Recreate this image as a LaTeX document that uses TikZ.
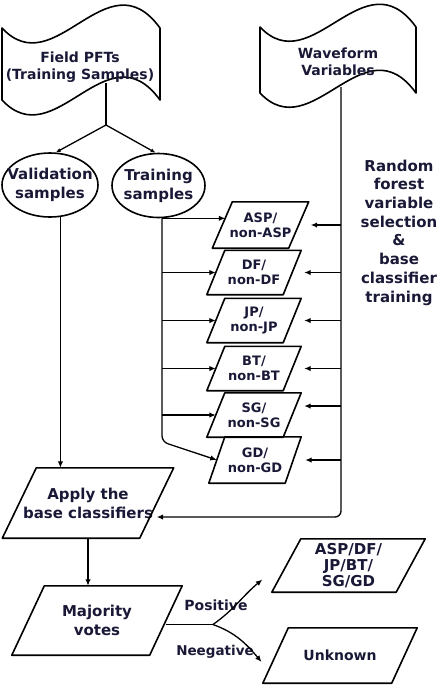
\documentclass[tikz,border=0pt]{standalone}
\usepackage{fontspec}
\setmainfont{DejaVu Sans}
\usetikzlibrary{arrows.meta,calc,shapes.geometric}
\definecolor{txt}{RGB}{25,25,55}
\newcommand\myfs[2]{\fontsize{#1}{#2}\selectfont}
\newcommand\pgram[2]{\draw[shp] ([xshift=-#2]#1.south west) -- ([xshift=-#2]#1.south east) -- ([xshift=#2]#1.north east) -- ([xshift=#2]#1.north west) -- cycle;}
\tikzset{
  shp/.style={draw=black, line width=1.6pt, line join=round},
  conn/.style={draw=black, line width=1.3pt},
  arr/.style={conn, -{Latex[length=6.5pt,width=5.5pt]}},
  lbl/.style={text=txt, align=center, inner sep=0pt, font=\bfseries\myfs{14}{17}},
  cls/.style={lbl, rectangle, minimum width=76pt, minimum height=44pt, font=\bfseries\myfs{13}{15}},
}
\begin{document}
\begin{tikzpicture}[x=1pt,y=1pt]
\useasboundingbox (0,0) rectangle (438,-689);

% flags
\draw[shp] (2,-28) .. controls (55,-85) and (107,45) .. (160,-28) -- (160,-100)
  .. controls (107,-27) and (55,-157) .. (2,-100) -- cycle;
\node[lbl] (pft) at (80,-67) {Field PFTs\\(Training Samples)};
\draw[shp] (260,-27) .. controls (312,-82) and (364,45) .. (416,-27) -- (416,-93)
  .. controls (364,-21) and (312,-148) .. (260,-93) -- cycle;
\node[lbl] (wav) at (338,-62) {Waveform\\Variables};
\coordinate (pftb) at (106,-83);
\coordinate (pftj) at (106,-125);
\coordinate (wvb) at (341,-87);

% ellipses
\node[shp, ellipse, minimum width=96pt, minimum height=64pt, inner sep=0pt] (val) at (50,-185) {};
\node[lbl, font=\bfseries\myfs{15}{19}] (valt) at (val) {Validation\\samples};
\node[shp, ellipse, minimum width=93pt, minimum height=64pt, inner sep=0pt] (trn) at (158.5,-185.5) {};
\node[lbl, font=\bfseries\myfs{15}{19}] (trnt) at (trn) {Training\\samples};

% classifier boxes
\node[cls, minimum height=46pt] (asp) at (260.5,-225) {ASP/\\non-ASP};
\node[cls] (df) at (254,-272.5) {DF/\\non-DF};
\node[cls] (jp) at (254,-320.5) {JP/\\non-JP};
\node[cls] (bt) at (254,-368.5) {BT/\\non-BT};
\node[cls] (sg) at (254,-415) {SG/\\non-SG};
\node[cls, minimum height=46pt] (gd) at (255,-460) {GD/\\non-GD};
\pgram{asp}{10pt}
\pgram{df}{9pt}
\pgram{jp}{9pt}
\pgram{bt}{9pt}
\pgram{sg}{9pt}
\pgram{gd}{8pt}

\node[lbl, font=\bfseries\myfs{15}{18.7}] (rf) at (399,-232.5) {Random\\forest\\variable\\selection\\\&\\base\\classifier\\training};

% lower boxes
\node[lbl, rectangle, minimum width=137pt, minimum height=70pt, font=\bfseries\myfs{15}{19}] (apply) at (88,-503) {Apply the\\base classifiers};
\pgram{apply}{17pt}
\node[lbl, rectangle, minimum width=137.5pt, minimum height=69pt, font=\bfseries\myfs{15}{19}] (maj) at (97,-620.5) {Majority\\votes};
\pgram{maj}{16.25pt}
\node[lbl, rectangle, minimum width=124pt, minimum height=53pt, font=\bfseries\myfs{15}{16}] (res) at (348.5,-565.5) {ASP/DF/\\JP/BT/\\SG/GD};
\pgram{res}{14.5pt}
\node[lbl, rectangle, minimum width=128.5pt, minimum height=55pt] (unk) at (340,-655.5) {Unknown};
\pgram{unk}{12.75pt}

\node[lbl] (pos) at (216,-605) {Positive};
\node[lbl, font=\bfseries\myfs{13.5}{16}] (neg) at (215,-652) {Neegative};

% connectors from Field PFTs
\draw[conn] (pftb) -- (pftj);
\draw[arr, -{Latex[length=5pt,width=4pt]}] (pftj) -- (val.80);
\draw[arr, -{Latex[length=5pt,width=4pt]}] (pftj) -- (trn.95);

% validation to apply
\draw[arr] (val.-72) -- (val.-72 |- apply.north);

% training trunk
\coordinate (trnb) at ($(trn.south)+(3.5,0)$);
\draw[arr, rounded corners=6pt] (trnb) -- ($(trnb |- gd.north)+(0,-5)$) -- (gd.west);
\draw[arr] (trnb) -- ([xshift=3pt]trnb -| asp.west);
\foreach \n in {df,jp,bt,sg}{\draw[arr] (trnb |- \n.west) -- (\n.west);}

% waveform trunk
\coordinate (appin) at ($(apply.east)+(0,-14)$);
\draw[arr, rounded corners=6pt] (wvb) -- (wvb |- appin) -- (appin);
\coordinate (sgr) at ($(sg.east)+(0,9)$);
\foreach \n in {asp,df,jp,bt,sgr,gd}{\draw[arr, shorten >=12pt] (wvb |- \n.east) -- (\n.east);}

% apply to majority
\draw[arr] (apply.south) -- (apply.south |- maj.north);

% majority branches
\coordinate (mo) at ($(maj.east)+(0,-4)$);
\coordinate (mj) at ($(mo)+(47,0)$);
\coordinate (postip) at ($(res.west)+(-24,-14)$);
\coordinate (negtip) at ($(unk.west)+(-14,-6.5)$);
\draw[conn] (mo) -- (mj);
\draw[arr] (mj) to[out=35,in=220] (postip);
\draw[arr] (mj) to[out=-20,in=130] (negtip);
\end{tikzpicture}
\end{document}
